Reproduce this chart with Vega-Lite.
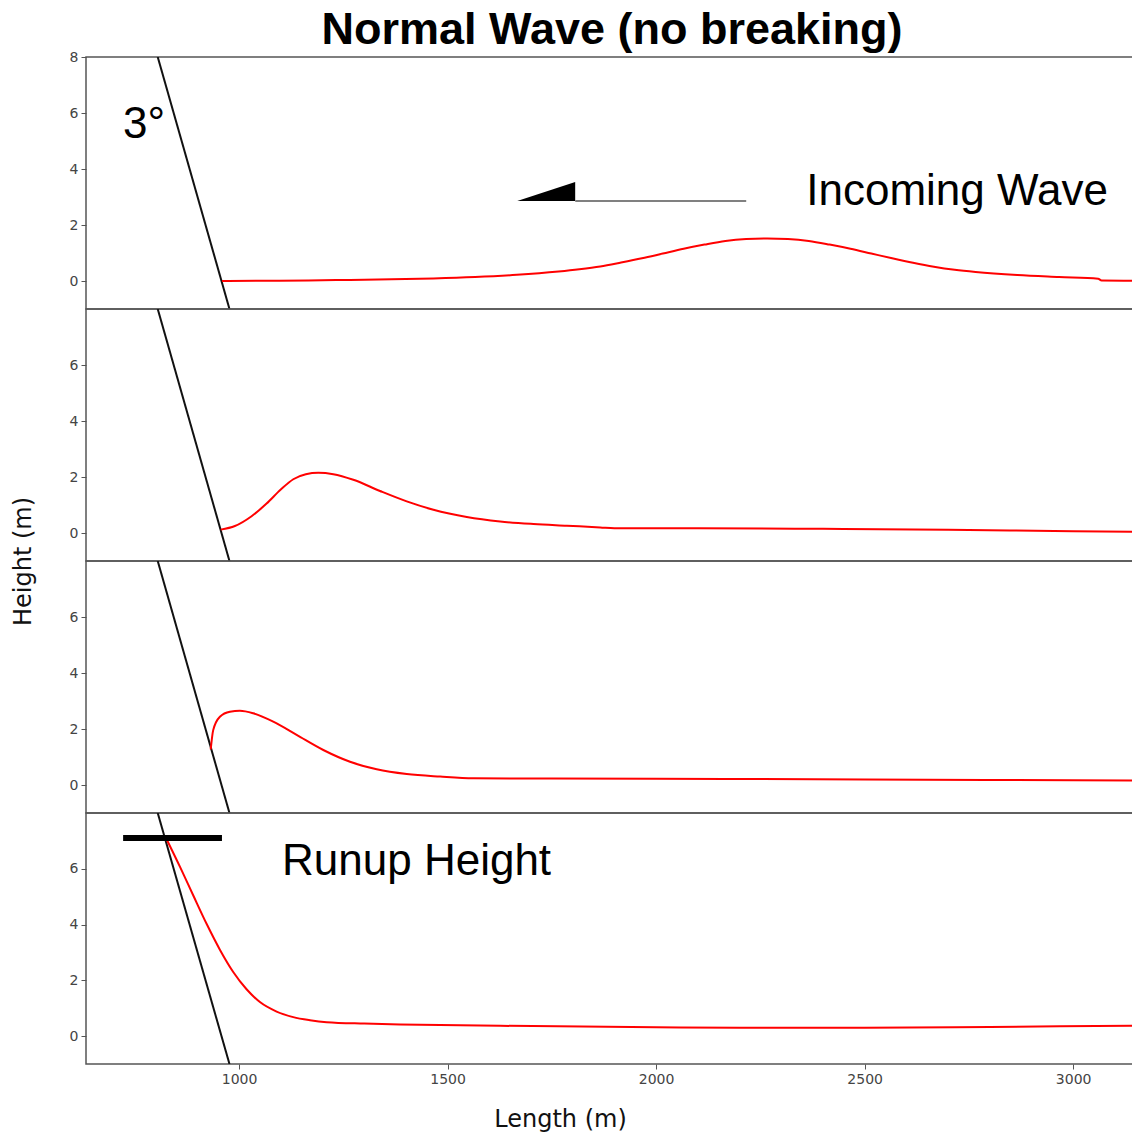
{
  "$schema": "https://vega.github.io/schema/vega-lite/v6.json",
  "background": "white",
  "padding": {"left": 10, "top": 7, "right": 0, "bottom": 0},
  "spacing": 0,
  "bounds": "flush",
  "config": {
    "view": {"stroke": "#555555", "strokeWidth": 1.5},
    "axis": {
      "grid": false,
      "domain": false,
      "tickSize": 5,
      "tickColor": "#555555",
      "labelFont": "DejaVu Sans",
      "labelFontSize": 14,
      "labelColor": "#444444",
      "labelPadding": 3,
      "labelFlush": false,
      "titleFont": "DejaVu Sans",
      "titleFontSize": 24,
      "titleFontWeight": "normal",
      "titleColor": "#111111"
    }
  },
  "datasets": {
    "wave": [
      {"panel": 1, "x": 959, "y": 0.0},
      {"panel": 1, "x": 1066, "y": 0.01},
      {"panel": 1, "x": 1166, "y": 0.02},
      {"panel": 1, "x": 1266, "y": 0.04},
      {"panel": 1, "x": 1366, "y": 0.06},
      {"panel": 1, "x": 1466, "y": 0.09},
      {"panel": 1, "x": 1566, "y": 0.14},
      {"panel": 1, "x": 1666, "y": 0.22},
      {"panel": 1, "x": 1766, "y": 0.34},
      {"panel": 1, "x": 1816, "y": 0.42},
      {"panel": 1, "x": 1866, "y": 0.52},
      {"panel": 1, "x": 1916, "y": 0.66},
      {"panel": 1, "x": 1966, "y": 0.81},
      {"panel": 1, "x": 2016, "y": 0.98},
      {"panel": 1, "x": 2066, "y": 1.15},
      {"panel": 1, "x": 2116, "y": 1.3},
      {"panel": 1, "x": 2166, "y": 1.43},
      {"panel": 1, "x": 2216, "y": 1.5},
      {"panel": 1, "x": 2266, "y": 1.52},
      {"panel": 1, "x": 2316, "y": 1.5},
      {"panel": 1, "x": 2366, "y": 1.43},
      {"panel": 1, "x": 2416, "y": 1.3},
      {"panel": 1, "x": 2466, "y": 1.15},
      {"panel": 1, "x": 2516, "y": 0.98},
      {"panel": 1, "x": 2566, "y": 0.81},
      {"panel": 1, "x": 2616, "y": 0.65},
      {"panel": 1, "x": 2666, "y": 0.51},
      {"panel": 1, "x": 2716, "y": 0.4},
      {"panel": 1, "x": 2766, "y": 0.32},
      {"panel": 1, "x": 2866, "y": 0.21},
      {"panel": 1, "x": 2966, "y": 0.14},
      {"panel": 1, "x": 3060, "y": 0.08},
      {"panel": 1, "x": 3068, "y": 0.02},
      {"panel": 1, "x": 3141, "y": 0.01},
      {"panel": 1, "x": 3180, "y": 0.01},
      {"panel": 2, "x": 956, "y": 0.12},
      {"panel": 2, "x": 990, "y": 0.25},
      {"panel": 2, "x": 1030, "y": 0.6},
      {"panel": 2, "x": 1066, "y": 1.05},
      {"panel": 2, "x": 1100, "y": 1.55},
      {"panel": 2, "x": 1130, "y": 1.92},
      {"panel": 2, "x": 1160, "y": 2.1},
      {"panel": 2, "x": 1190, "y": 2.15},
      {"panel": 2, "x": 1226, "y": 2.1},
      {"panel": 2, "x": 1274, "y": 1.9},
      {"panel": 2, "x": 1338, "y": 1.5},
      {"panel": 2, "x": 1402, "y": 1.13},
      {"panel": 2, "x": 1466, "y": 0.83},
      {"panel": 2, "x": 1546, "y": 0.57},
      {"panel": 2, "x": 1626, "y": 0.41},
      {"panel": 2, "x": 1706, "y": 0.32},
      {"panel": 2, "x": 1786, "y": 0.26},
      {"panel": 2, "x": 1866, "y": 0.2},
      {"panel": 2, "x": 1900, "y": 0.17},
      {"panel": 2, "x": 2100, "y": 0.17},
      {"panel": 2, "x": 2400, "y": 0.15},
      {"panel": 2, "x": 2700, "y": 0.12},
      {"panel": 2, "x": 3000, "y": 0.06},
      {"panel": 2, "x": 3180, "y": 0.04},
      {"panel": 3, "x": 932, "y": 1.27},
      {"panel": 3, "x": 938, "y": 1.96},
      {"panel": 3, "x": 954, "y": 2.44},
      {"panel": 3, "x": 978, "y": 2.62},
      {"panel": 3, "x": 1002, "y": 2.65},
      {"panel": 3, "x": 1034, "y": 2.56},
      {"panel": 3, "x": 1082, "y": 2.26},
      {"panel": 3, "x": 1138, "y": 1.79},
      {"panel": 3, "x": 1202, "y": 1.25},
      {"panel": 3, "x": 1266, "y": 0.83},
      {"panel": 3, "x": 1330, "y": 0.56},
      {"panel": 3, "x": 1402, "y": 0.39},
      {"panel": 3, "x": 1482, "y": 0.3},
      {"panel": 3, "x": 1562, "y": 0.24},
      {"panel": 3, "x": 1750, "y": 0.23},
      {"panel": 3, "x": 2000, "y": 0.22},
      {"panel": 3, "x": 2500, "y": 0.2},
      {"panel": 3, "x": 3000, "y": 0.17},
      {"panel": 3, "x": 3180, "y": 0.16},
      {"panel": 4, "x": 825, "y": 7.1},
      {"panel": 4, "x": 859, "y": 6.05},
      {"panel": 4, "x": 890, "y": 5.05},
      {"panel": 4, "x": 923, "y": 4.0},
      {"panel": 4, "x": 954, "y": 3.1},
      {"panel": 4, "x": 986, "y": 2.3},
      {"panel": 4, "x": 1018, "y": 1.68},
      {"panel": 4, "x": 1050, "y": 1.22},
      {"panel": 4, "x": 1090, "y": 0.88},
      {"panel": 4, "x": 1130, "y": 0.68},
      {"panel": 4, "x": 1170, "y": 0.57},
      {"panel": 4, "x": 1210, "y": 0.5},
      {"panel": 4, "x": 1300, "y": 0.45},
      {"panel": 4, "x": 1386, "y": 0.42},
      {"panel": 4, "x": 1626, "y": 0.37},
      {"panel": 4, "x": 2000, "y": 0.32},
      {"panel": 4, "x": 2200, "y": 0.3},
      {"panel": 4, "x": 2500, "y": 0.3},
      {"panel": 4, "x": 2800, "y": 0.33},
      {"panel": 4, "x": 3180, "y": 0.38}
    ],
    "beach": [
      {"x": 805, "y": 8},
      {"x": 977, "y": -1}
    ],
    "arrowhead": [
      {"x": 1667, "y": 2.86, "y2": 2.86},
      {"x": 1806, "y": 3.54, "y2": 2.86}
    ],
    "arrowshaft": [
      {"x": 1806, "x2": 2216, "y": 2.86}
    ],
    "runupbar": [
      {"x": 722, "x2": 959, "y": 7.1}
    ],
    "labels": [
      {"panel": 1, "x": 722, "y": 5.57, "text": "3°"},
      {"panel": 1, "x": 2360, "y": 3.18, "text": "Incoming Wave"},
      {"panel": 4, "x": 1103, "y": 6.25, "text": "Runup Height"}
    ]
  },
  "vconcat": [
    {
      "width": 1060,
      "height": 252,
      "title": {
        "text": "Normal Wave (no breaking)",
        "font": "Liberation Sans",
        "fontSize": 45,
        "fontWeight": "bold",
        "color": "#000000",
        "anchor": "middle",
        "frame": "group",
        "offset": -3,
        "dx": -4
      },
      "encoding": {
        "x": {"field": "x", "type": "quantitative", "scale": {"domain": [633, 3174.6], "nice": false, "zero": false}, "axis": null},
        "y": {"field": "y", "type": "quantitative", "scale": {"domain": [-1, 8], "nice": false, "zero": false}, "axis": {"values": [0, 2, 4, 6, 8], "format": "d", "title": null}}
      },
      "layer": [
        {"data": {"name": "beach"}, "mark": {"type": "line", "color": "#111111", "strokeWidth": 2, "clip": true}},
        {"data": {"name": "wave"}, "transform": [{"filter": "datum.panel == 1"}], "mark": {"type": "line", "color": "#ff0000", "strokeWidth": 2, "interpolate": "monotone", "clip": true}},
        {"data": {"name": "arrowhead"}, "mark": {"type": "area", "color": "#000000", "opacity": 1, "clip": true}, "encoding": {"y2": {"field": "y2"}}},
        {"data": {"name": "arrowshaft"}, "mark": {"type": "rule", "color": "#808080", "strokeWidth": 2}, "encoding": {"x2": {"field": "x2"}}},
        {"data": {"name": "labels"}, "transform": [{"filter": "datum.panel == 1"}], "mark": {"type": "text", "font": "Liberation Sans", "fontSize": 44, "align": "left", "baseline": "middle", "color": "#000000"}, "encoding": {"text": {"field": "text"}}}
      ]
    },
    {
      "width": 1060,
      "height": 252,
      "encoding": {
        "x": {"field": "x", "type": "quantitative", "scale": {"domain": [633, 3174.6], "nice": false, "zero": false}, "axis": null},
        "y": {"field": "y", "type": "quantitative", "scale": {"domain": [-1, 8], "nice": false, "zero": false}, "axis": {"values": [0, 2, 4, 6], "format": "d", "title": "Height (m)", "titleX": -63, "titleY": 252, "titleAngle": 270, "titleBaseline": "middle", "titleAlign": "center"}}
      },
      "layer": [
        {"data": {"name": "beach"}, "mark": {"type": "line", "color": "#111111", "strokeWidth": 2, "clip": true}},
        {"data": {"name": "wave"}, "transform": [{"filter": "datum.panel == 2"}], "mark": {"type": "line", "color": "#ff0000", "strokeWidth": 2, "interpolate": "monotone", "clip": true}}
      ]
    },
    {
      "width": 1060,
      "height": 252,
      "encoding": {
        "x": {"field": "x", "type": "quantitative", "scale": {"domain": [633, 3174.6], "nice": false, "zero": false}, "axis": null},
        "y": {"field": "y", "type": "quantitative", "scale": {"domain": [-1, 8], "nice": false, "zero": false}, "axis": {"values": [0, 2, 4, 6], "format": "d", "title": null}}
      },
      "layer": [
        {"data": {"name": "beach"}, "mark": {"type": "line", "color": "#111111", "strokeWidth": 2, "clip": true}},
        {"data": {"name": "wave"}, "transform": [{"filter": "datum.panel == 3"}], "mark": {"type": "line", "color": "#ff0000", "strokeWidth": 2, "interpolate": "monotone", "clip": true}}
      ]
    },
    {
      "width": 1060,
      "height": 251,
      "encoding": {
        "x": {"field": "x", "type": "quantitative", "scale": {"domain": [633, 3174.6], "nice": false, "zero": false}, "axis": {"values": [1000, 1500, 2000, 2500, 3000], "format": "d", "title": "Length (m)", "titleX": 474, "titleY": 55, "titleBaseline": "middle", "titleAlign": "center"}},
        "y": {"field": "y", "type": "quantitative", "scale": {"domain": [-1, 8], "nice": false, "zero": false}, "axis": {"values": [0, 2, 4, 6], "format": "d", "title": null}}
      },
      "layer": [
        {"data": {"name": "beach"}, "mark": {"type": "line", "color": "#111111", "strokeWidth": 2, "clip": true}},
        {"data": {"name": "wave"}, "transform": [{"filter": "datum.panel == 4"}], "mark": {"type": "line", "color": "#ff0000", "strokeWidth": 2, "interpolate": "monotone", "clip": true}},
        {"data": {"name": "runupbar"}, "mark": {"type": "rule", "color": "#000000", "strokeWidth": 6}, "encoding": {"x2": {"field": "x2"}}},
        {"data": {"name": "labels"}, "transform": [{"filter": "datum.panel == 4"}], "mark": {"type": "text", "font": "Liberation Sans", "fontSize": 44, "align": "left", "baseline": "middle", "color": "#000000"}, "encoding": {"text": {"field": "text"}}}
      ]
    }
  ]
}
